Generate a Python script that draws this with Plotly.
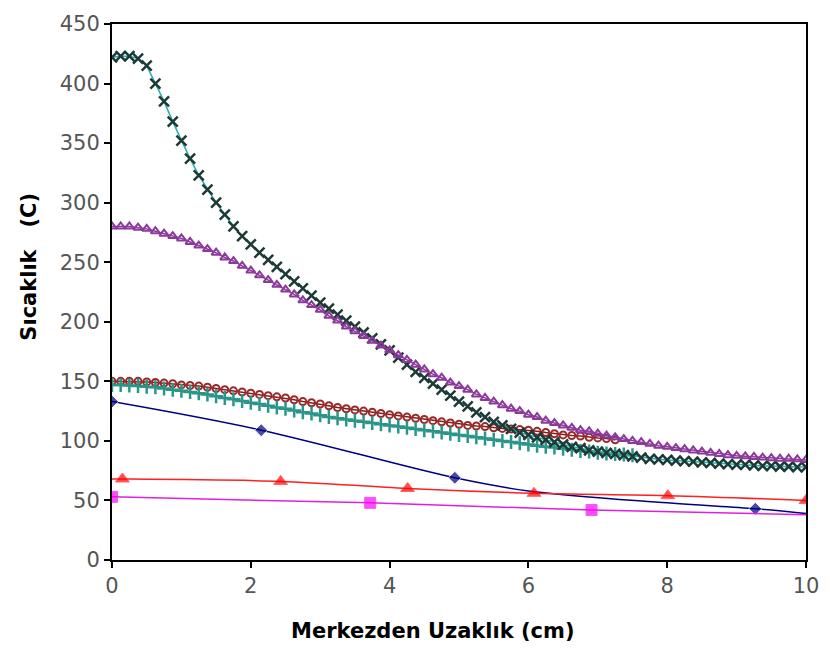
import plotly.graph_objects as go

# Dense series (step 0.125 cm)
x_dense = [i * 0.125 for i in range(81)]

series_x = [422, 423, 423, 421, 415, 400, 385, 368, 352, 337, 323, 311, 300, 290, 280, 272,
            265, 258, 252, 246, 240, 234, 228, 222, 216, 211, 206, 201, 196, 191, 186, 181,
            176, 170, 164, 158, 153, 148, 143, 138, 133, 129, 124, 120, 116, 113, 110, 107,
            105, 103, 101, 99, 97, 95, 94, 92, 91, 90, 89, 88, 87, 86, 85, 84.5,
            84, 83.5, 83, 82.5, 82, 81.5, 81, 80.5, 80, 80, 79.5, 79, 79, 78.5, 78.5, 78, 78]

series_purple = [280, 280, 280, 279, 278, 276, 274, 272, 270, 267, 264, 261, 258, 254, 251, 247,
                 243, 239, 235, 231, 227, 223, 218, 214, 210, 205, 201, 196, 192, 188, 184, 180,
                 176, 172, 168, 164, 160, 156, 153, 149, 146, 143, 139, 136, 133, 130, 127, 125,
                 122, 120, 117, 115, 113, 111, 109, 108, 106, 104.5, 103, 101.5, 100, 99, 97.5, 96,
                 95, 94, 93, 92, 91, 90, 89, 88, 87.5, 87, 86.5, 86, 85.5, 85, 85, 84.5, 84]

series_brown = [150, 150, 150, 150, 149.5, 149, 148.5, 148, 147, 146.5, 146, 145, 144, 143, 142, 141,
                140, 139, 138, 137, 136, 134.5, 133, 132, 131, 129.5, 128, 127, 126, 125, 124, 123,
                122, 121, 120, 119, 118, 117, 116, 115, 114, 113, 112.5, 112, 111, 110.5, 110, 109.5,
                109, 108, 107, 106, 105, 104.5, 104, 103, 102.5, 102, 101]

series_teal = [147, 147, 146.5, 146, 145.5, 145, 144, 143, 142, 141, 140, 139, 137.5, 136, 135, 133.5,
               132, 131, 129.5, 128, 127, 125.5, 124, 123, 121.5, 120, 119, 118, 117, 116, 115, 114,
               113, 112, 111, 110, 109, 108, 107, 106, 105, 104, 103, 102, 101, 100, 99, 98,
               97, 96, 95, 94.5, 93.5, 92.5, 91.5, 91, 90, 89.5, 89, 88.5, 88]

# Sparse series
blue_x = [0, 2.15, 4.94, 6.0, 8.0, 9.27, 10]
blue_y = [133, 109, 69, 58, 48, 43, 39]
blue_marker = [1, 1, 1, 0, 0, 1, 0]

red_x = [0, 0.15, 2.43, 4.26, 6.08, 8.01, 10]
red_y = [68, 68, 66, 60, 56, 54, 50]
red_marker = [0, 1, 1, 1, 1, 1, 1]

mag_x = [0, 3.72, 6.91, 10]
mag_y = [53, 48, 42, 38]
mag_marker = [1, 1, 1, 0]

x_ticks = [0, 2, 4, 6, 8, 10]
y_ticks = [0, 50, 100, 150, 200, 250, 300, 350, 400, 450]

fig = go.Figure()

fig.add_trace(go.Scatter(x=blue_x, y=blue_y, mode="lines+markers", line=dict(color="#000080", width=1.5, shape="spline"),
                         marker=dict(symbol="diamond", color="#000080", size=[10 * m for m in blue_marker])))
fig.add_trace(go.Scatter(x=red_x, y=red_y, mode="lines+markers", line=dict(color="#FF2020", width=1.5, shape="spline"),
                         marker=dict(symbol="triangle-up", color="#FF0000", size=[12 * m for m in red_marker])))
fig.add_trace(go.Scatter(x=mag_x, y=mag_y, mode="lines+markers", line=dict(color="#E020E0", width=1.5, shape="spline"),
                         marker=dict(symbol="square", color="#FF00FF", size=[11 * m for m in mag_marker])))

fig.add_trace(go.Scatter(x=x_dense[:len(series_brown)], y=series_brown, mode="lines+markers",
                         line=dict(color="#8B1A1A", width=1.5),
                         marker=dict(symbol="circle-open", color="#9A2A2A", size=7, line=dict(width=2))))
fig.add_trace(go.Scatter(x=x_dense[:len(series_teal)], y=series_teal, mode="lines+markers",
                         line=dict(color="#2A9A90", width=1.5),
                         marker=dict(symbol="cross-thin-open", color="#2A958A", size=10, line=dict(width=2.5))))
fig.add_trace(go.Scatter(x=x_dense, y=series_x, mode="lines+markers",
                         line=dict(color="#20B0B0", width=1.5),
                         marker=dict(symbol="x-thin-open", color="#1E3A36", size=10, line=dict(width=2.5))))
fig.add_trace(go.Scatter(x=x_dense, y=series_purple, mode="lines+markers",
                         line=dict(color="#9933AA", width=1.5),
                         marker=dict(symbol="triangle-up-open", color="#8A3A9A", size=8, line=dict(width=2))))

axis_common = dict(showline=True, linecolor="black", linewidth=2, mirror=True, showgrid=False, zeroline=False,
                   ticks="outside", ticklen=6, tickwidth=2, tickcolor="black",
                   tickfont=dict(family="DejaVu Sans, Arial", size=21, color="#555555"))

fig.update_layout(
    width=831, height=652,
    margin=dict(l=112, r=20, t=14, b=92),
    plot_bgcolor="white", paper_bgcolor="white",
    showlegend=False,
    xaxis=dict(range=[0, 10], tickvals=x_ticks, **axis_common),
    yaxis=dict(range=[0, 450], tickvals=y_ticks, **axis_common),
    annotations=[
        dict(text="<b>Merkezden Uzaklık (cm)</b>", xref="paper", yref="paper", x=0.462, y=-0.132,
             xanchor="center", yanchor="middle", showarrow=False,
             font=dict(family="DejaVu Sans, Arial", size=21, color="black")),
        dict(text="<b>Sıcaklık   (C)</b>", xref="paper", yref="paper", x=-0.119, y=0.548,
             xanchor="center", yanchor="middle", showarrow=False, textangle=-90,
             font=dict(family="DejaVu Sans, Arial", size=21, color="black")),
    ],
)

fig.write_html("out.html")
